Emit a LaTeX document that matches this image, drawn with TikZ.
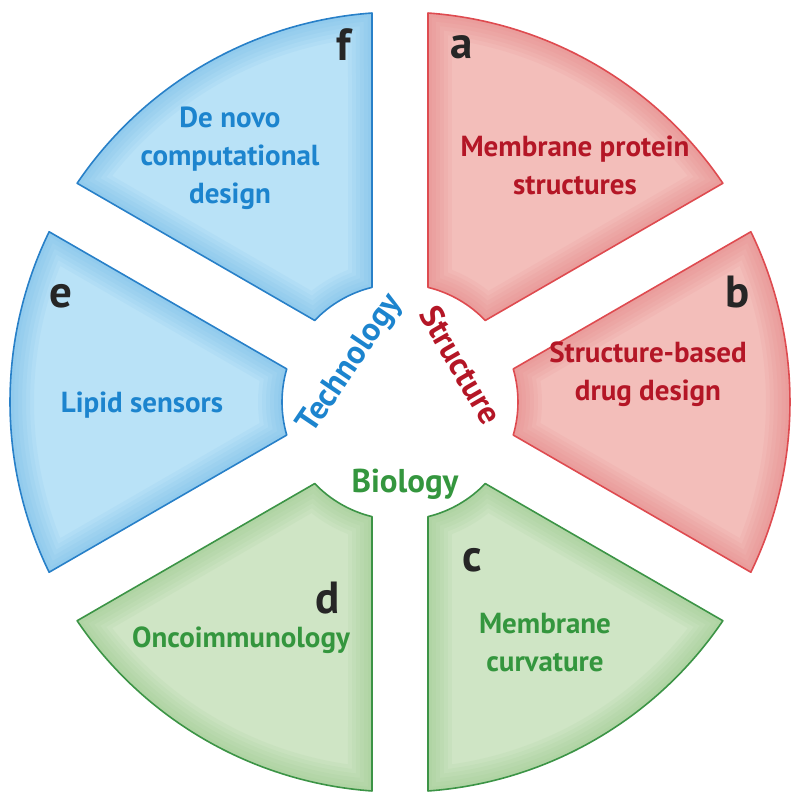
\documentclass[tikz,border=0pt]{standalone}
\usepackage{fontspec}
\setmainfont{PT Sans}

\definecolor{strucfill}{RGB}{243,190,186}
\definecolor{strucedge}{RGB}{226,120,120}
\definecolor{strucline}{RGB}{222,75,80}
\definecolor{structext}{RGB}{180,22,38}
\definecolor{biofill}{RGB}{207,229,197}
\definecolor{bioedge}{RGB}{140,195,125}
\definecolor{bioline}{RGB}{60,148,70}
\definecolor{biotext}{RGB}{52,150,62}
\definecolor{techfill}{RGB}{185,226,247}
\definecolor{techedge}{RGB}{100,178,228}
\definecolor{techline}{RGB}{40,128,200}
\definecolor{techtext}{RGB}{28,132,206}

\newcommand{\rout}{390}
\newcommand{\rin}{118}
\newcommand{\gap}{28}

\tikzset{
  wedge/.style 2 args={insert path={
      ({#1+asin(\gap/\rout)}:\rout pt)
      arc[start angle={#1+asin(\gap/\rout)}, end angle={#2-asin(\gap/\rout)}, radius=\rout pt]
      -- ({#2-asin(\gap/\rin)}:\rin pt)
      arc[start angle={#2-asin(\gap/\rin)}, end angle={#1+asin(\gap/\rin)}, radius=\rin pt]
      -- cycle}},
  letter/.style={font=\fontsize{45}{45}\selectfont\bfseries, text=black!85},
  topic/.style={font=\fontsize{29}{38}\selectfont\bfseries, align=center},
  theme/.style={font=\fontsize{33}{33}\selectfont\bfseries},
}

\begin{document}
\begin{tikzpicture}[x=1pt, y=1pt]
  \useasboundingbox (-400,-402) rectangle (400,402);

  % six wedges with a soft darker rim
  \foreach \sname/\from/\to/\grp in {a/30/90/struc, b/-30/30/struc, c/-90/-30/bio,
    d/-150/-90/bio, e/150/210/tech, f/90/150/tech}{
    \fill[\grp fill, wedge={\from}{\to}];
    \begin{scope}
      \clip[wedge={\from}{\to}];
      \foreach \w in {8,16,...,48}
        \draw[\grp edge, line width=\w pt, opacity=0.09, wedge={\from}{\to}];
    \end{scope}
    \draw[\grp line, line width=1.6pt, line join=round, wedge={\from}{\to}];
  }

  % letters
  \node[letter] (la) at (62,355) {a};
  \node[letter] (lb) at (338,110) {b};
  \node[letter] (lc) at (72,-158) {c};
  \node[letter] (ld) at (-72,-196) {d};
  \node[letter] (le) at (-339,106) {e};
  \node[letter] (lf) at (-56,357) {f};

  % topics
  \node[topic, text=structext] (ta) at (175,237) {Membrane protein\\structures};
  \node[topic, text=structext] (tb) at (248,28) {Structure-based\\drug design};
  \node[topic, text=biotext] (tc) at (145,-241) {Membrane\\curvature};
  \node[topic, text=biotext] (td) at (-159,-238) {Oncoimmunology};
  \node[topic, text=techtext] (te) at (-258,-3) {Lipid sensors};
  \node[topic, text=techtext] (tf) at (-170,244) {De novo\\computational\\design};

  % themes
  \node[theme, text=techtext, rotate=56] (tech) at (-49,38) {Technology};
  \node[theme, text=structext, rotate=-60] (struc) at (61,37) {Structure};
  \node[theme, text=biotext] (bio) at (5,-82) {Biology};
\end{tikzpicture}
\end{document}
